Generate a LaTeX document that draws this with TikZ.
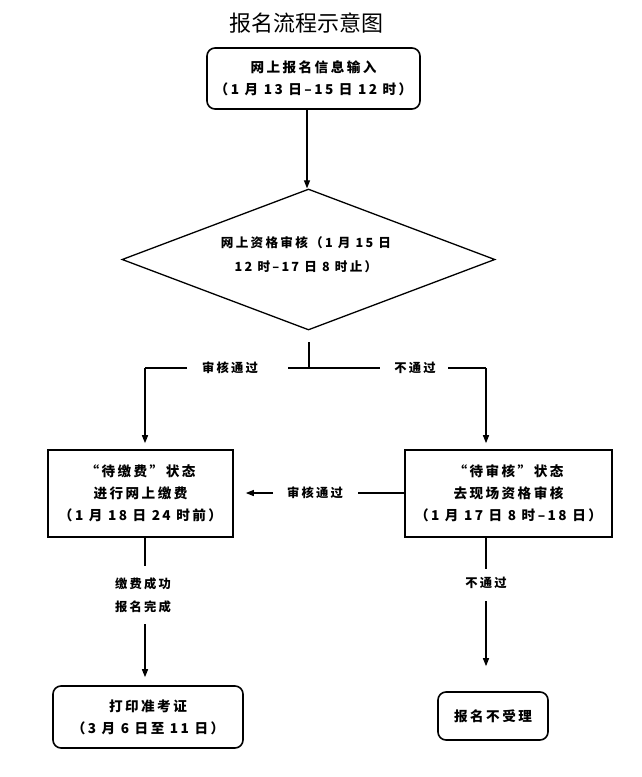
\documentclass[tikz,border=0pt]{standalone}
\usepackage{fontspec}
\setmainfont{Noto Sans CJK SC}
\newfontfamily\bx[LetterSpace=18]{Noto Sans CJK SC}
\usetikzlibrary{shapes.geometric,arrows.meta}
\begin{document}
\begin{tikzpicture}[x=1pt,y=-1pt,
  box/.style={draw,line width=1.6pt,inner sep=0pt,align=center,font=\bx\bfseries\fontsize{13.6}{22}\selectfont},
  rbox/.style={box,rounded corners=8pt},
  lab/.style={inner sep=0pt,align=center,font=\bx\bfseries\fontsize{12.3}{23}\selectfont},
  conn/.style={line width=1.2pt},
  arr/.style={conn,-{Triangle[length=8pt,width=6pt]}}]
\useasboundingbox (0,0) rectangle (642,777);
\node[font=\fontsize{22}{22}\selectfont] (title) at (306,23) {报名流程示意图};
\node[rbox,minimum width=213pt,minimum height=61pt] (n1) at (313.5,78.5) {网上报名信息输入\\（1 月 13 日–15 日 12 时）};
\node[draw,diamond,line width=1.3pt,minimum width=373pt,minimum height=141pt,inner sep=0pt] (n2) at (308.5,259.5) {};
\node[lab,font=\bx\bfseries\fontsize{12.6}{24}\selectfont] (n2t) at (306,255) {网上资格审核（1 月 15 日\\12 时–17 日 8 时止）};
\node[box,minimum width=185pt,minimum height=87pt] (n3) at (140.5,493.5) {“待缴费”状态\\进行网上缴费\\（1 月 18 日 24 时前）};
\node[box,minimum width=207pt,minimum height=87pt] (n4) at (508.5,493.5) {“待审核”状态\\去现场资格审核\\（1 月 17 日 8 时–18 日）};
\node[rbox,minimum width=190pt,minimum height=62pt] (n5) at (148,717) {打印准考证\\（3 月 6 日至 11 日）};
\node[rbox,minimum width=110pt,minimum height=48pt] (n6) at (493,716) {报名不受理};
% labels
\node[lab] (l1) at (230,368) {审核通过};
\node[lab] (l2) at (415,368) {不通过};
\node[lab] (l3) at (315,493) {审核通过};
\node[lab] (l4) at (143,595) {缴费成功\\报名完成};
\node[lab] (l5) at (486,583) {不通过};
% coordinates
\coordinate (t0) at (307,109);
\coordinate (s0) at (309,342);
\coordinate (s1) at (309,368);
\coordinate (lc) at (145,368);
\coordinate (rc) at (486,368);
\coordinate (g1a) at (187,368);
\coordinate (g1b) at (288,368);
\coordinate (g2a) at (380,368);
\coordinate (g2b) at (448,368);
\coordinate (h1) at (358,493);
\coordinate (h2) at (273,493);
\coordinate (v1) at (145,566);
\coordinate (v2) at (145,624);
\coordinate (w1) at (486,569);
\coordinate (w2) at (486,601);
% connectors
\draw[arr] (t0 |- n1.south) -- (t0 |- n2.north);
\draw[conn] (s0) -- (s1);
\draw[conn] (g1b) -- (g2a);
\draw[conn] (g1a) -- (lc);
\draw[conn] (g2b) -- (rc);
\draw[arr,shorten >=6pt] (lc) -- (lc |- n3.north);
\draw[arr,shorten >=6pt] (rc) -- (rc |- n4.north);
\draw[conn] (n4.west |- h1) -- (h1);
\draw[arr,shorten >=12pt] (h2) -- (n3.east |- h2);
\draw[conn] (v1 |- n3.south) -- (v1);
\draw[arr,shorten >=8pt] (v2) -- (v2 |- n5.north);
\draw[conn] (w1 |- n4.south) -- (w1);
\draw[arr,shorten >=25pt] (w2) -- (w2 |- n6.north);
\end{tikzpicture}
\end{document}
